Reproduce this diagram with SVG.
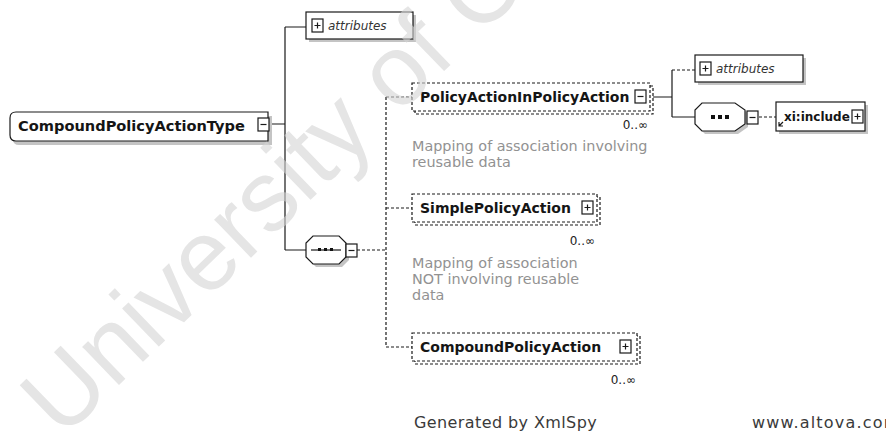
<svg xmlns="http://www.w3.org/2000/svg" width="886" height="433" viewBox="0 0 886 433">
  <style>
    .ln{stroke:#1a1a1a;stroke-width:1.2;fill:none}
    .dl{stroke:#1a1a1a;stroke-width:1.2;fill:none;stroke-dasharray:3 2}
    .box{fill:#fff;stroke:#1a1a1a;stroke-width:1.2}
    .dbox{fill:#fff;stroke:#1a1a1a;stroke-width:1.2;stroke-dasharray:3 2}
    .sh{fill:#c4c4c4}
    .nm{font-family:"DejaVu Sans",Verdana,sans-serif;font-weight:bold;font-size:14px;fill:#151515}
    .nm-lg{font-size:14.6px}
    .nm-sm{font-size:12px}
    .cm{font-family:"DejaVu Sans",Verdana,sans-serif;font-size:14.4px;fill:#929292}
    .occ{font-family:"DejaVu Sans",Verdana,sans-serif;font-size:12px;fill:#222}
    .at{font-family:"DejaVu Sans",Verdana,sans-serif;font-style:italic;font-size:12px;fill:#333}
    .ft{font-family:"DejaVu Sans",Verdana,sans-serif;font-size:16px;fill:#3a3a3a}
    .wm{font-family:"Liberation Sans",Arial,sans-serif;font-size:100px;fill:#d4d4d4;opacity:.6}
  </style>
  <defs>
    <g id="btn-plus">
      <rect x="0" y="0" width="11" height="13" class="box"/>
      <path d="M2.5 6.5 H8.5 M5.5 3.5 V9.5" class="ln"/>
    </g>
    <g id="btn-minus">
      <rect x="0" y="0" width="11" height="13" class="box"/>
      <path d="M2.5 6.5 H8.5" class="ln"/>
    </g>
    <!-- octagonal compositor outline, 40 x 28 -->
    <path id="octa" d="M7 0 H33 L40 7 V21 L33 28 H7 L0 21 V7 Z"/>
  </defs>

  <rect width="886" height="433" fill="#fff"/>

  <!-- connectors -->
  <g id="connectors">
    <path class="ln" d="M268 124 H285 M285 27 V250 M285 27 H306 M285 250 H306"/>
    <path class="dl" d="M357 250 H386 M386 97 V347 M386 97 H412 M386 208 H412 M386 347 H412"/>
    <path class="ln" d="M650 97 H672 M672 70 V117 M672 117 H695"/>
    <path class="dl" d="M759 117 H776"/>
    <path class="dl" d="M672 70 H695"/>
  </g>

  <!-- complex type root -->
  <g id="root-type">
    <path class="sh" d="M19 116 H272 V145 H19 Q13 145 13 139 V122 Q13 116 19 116 Z"/>
    <path class="box" d="M16 112 H268 V141 H16 Q10 141 10 135 V118 Q10 112 16 112 Z"/>
    <text class="nm nm-lg" x="18" y="131">CompoundPolicyActionType</text>
    <use href="#btn-minus" x="258" y="118"/>
  </g>

  <!-- attribute group of the root type -->
  <g id="root-attributes">
    <rect class="sh" x="309" y="15" width="107" height="27"/>
    <rect class="box" x="306" y="12" width="107" height="27"/>
    <use href="#btn-plus" x="312" y="19"/>
    <text class="at" x="328" y="30">attributes</text>
  </g>

  <!-- sequence compositor -->
  <g id="sequence-main">
    <use href="#octa" x="309" y="239" class="sh"/>
    <use href="#octa" x="306" y="236" class="box"/>
    <path class="ln" d="M311 250 H341"/>
    <rect x="318" y="248" width="3" height="3" fill="#111"/>
    <rect x="324" y="248" width="3" height="3" fill="#111"/>
    <rect x="330" y="248" width="3" height="3" fill="#111"/>
    <use href="#btn-minus" x="346" y="244"/>
  </g>

  <!-- element PolicyActionInPolicyAction -->
  <g id="el-policy-action-in-policy-action">
    <rect class="dbox" x="415" y="86" width="238" height="28"/>
    <rect class="dbox" x="412" y="83" width="238" height="28"/>
    <text class="nm" x="420" y="102">PolicyActionInPolicyAction</text>
    <use href="#btn-minus" x="635" y="90"/>
    <text class="occ" x="648" y="129" text-anchor="end">0..∞</text>
    <text class="cm" x="412" y="151">Mapping of association involving</text>
    <text class="cm" x="412" y="167">reusable data</text>
  </g>

  <!-- element SimplePolicyAction -->
  <g id="el-simple-policy-action">
    <rect class="dbox" x="415" y="197" width="185" height="28"/>
    <rect class="dbox" x="412" y="194" width="185" height="28"/>
    <text class="nm" x="420" y="213">SimplePolicyAction</text>
    <use href="#btn-plus" x="582" y="201"/>
    <text class="occ" x="595" y="245" text-anchor="end">0..∞</text>
    <text class="cm" x="412" y="268">Mapping of association</text>
    <text class="cm" x="412" y="284">NOT involving reusable</text>
    <text class="cm" x="412" y="300">data</text>
  </g>

  <!-- element CompoundPolicyAction -->
  <g id="el-compound-policy-action">
    <rect class="dbox" x="415" y="336" width="225" height="28"/>
    <rect class="dbox" x="412" y="333" width="225" height="28"/>
    <text class="nm" x="420" y="352">CompoundPolicyAction</text>
    <use href="#btn-plus" x="620" y="340"/>
    <text class="occ" x="636" y="384" text-anchor="end">0..∞</text>
  </g>

  <!-- attributes of PolicyActionInPolicyAction -->
  <g id="inner-attributes">
    <rect class="sh" x="698" y="58" width="108" height="27"/>
    <rect class="box" x="695" y="55" width="108" height="27"/>
    <use href="#btn-plus" x="700" y="62"/>
    <text class="at" x="716" y="73">attributes</text>
  </g>

  <!-- inner sequence -->
  <g id="sequence-inner">
    <path class="sh" d="M705 106 H738 L748 113 V127 L738 134 H705 L698 127 V113 Z"/>
    <path class="box" d="M702 103 H735 L745 110 V124 L735 131 H702 L695 124 V110 Z"/>
    <rect x="711" y="115" width="4" height="4" fill="#111"/>
    <rect x="718" y="115" width="4" height="4" fill="#111"/>
    <rect x="725" y="115" width="4" height="4" fill="#111"/>
    <use href="#btn-minus" x="747" y="111"/>
  </g>

  <!-- referenced include element -->
  <g id="el-include">
    <rect class="sh" x="779" y="105" width="89" height="29"/>
    <rect class="box" x="776" y="102" width="89" height="29"/>
    <path class="ln" d="M779 126 L783 122 M779 122 V126 H783"/>
    <text class="nm nm-sm" x="784" y="121">xi:include</text>
    <use href="#btn-plus" x="852" y="110"/>
  </g>

  <!-- footer -->
  <text class="ft" x="414" y="428" letter-spacing="0.4">Generated by XmlSpy</text>
  <text class="ft" x="752" y="428" letter-spacing="1.2">www.altova.com</text>

  <!-- watermark -->
  <text class="wm" transform="translate(62 440) rotate(-44)">University of Cape Town</text>
</svg>
